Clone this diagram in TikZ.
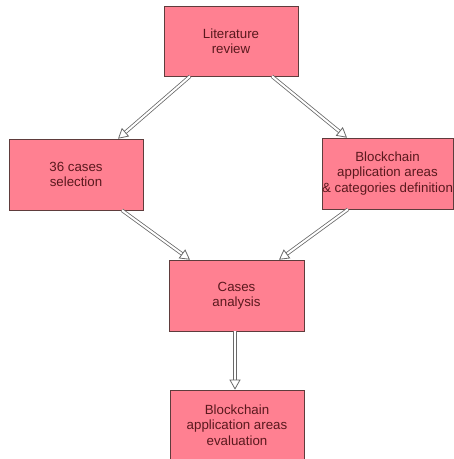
\documentclass[tikz,border=0pt]{standalone}
\usepackage{fontspec}
\setmainfont{Liberation Sans}
\usetikzlibrary{arrows.meta}
\definecolor{boxfill}{RGB}{255,128,145}
\definecolor{boxline}{RGB}{95,60,60}
\definecolor{boxtext}{RGB}{90,25,30}
\definecolor{arrgray}{RGB}{105,105,105}
\tikzset{
  stepbox/.style={draw=boxline, line width=0.6pt, fill=boxfill, text=boxtext,
    minimum width=#1, minimum height=70pt, inner sep=0pt, align=center,
    font=\fontsize{13.3}{15.5}\selectfont},
  stepbox/.default=134pt,
  flow/.style={draw=arrgray, line width=0.8pt, double=white, double distance=2pt,
    -{Triangle[open, length=10pt, width=11pt]}}
}
\begin{document}
\begin{tikzpicture}[x=1pt,y=1pt]
\useasboundingbox (0,0) rectangle (454,459);
\node[stepbox] (lit) at (231,418) {Literature\\review};
\node[stepbox, minimum height=71pt] (sel) at (76,284.5) {36 cases\\selection};
\node[stepbox=129pt, minimum height=71pt] (def) at (387.5,285.5) {Blockchain\\application areas\\\& categories definition};
\node[stepbox=135pt, minimum height=71pt] (ana) at (236.5,163.5) {Cases\\analysis};
\node[stepbox] (eva) at (237,34) {Blockchain\\application areas\\evaluation};
\draw[flow] ([xshift=-41pt]lit.south) -- ([xshift=42pt]sel.north);
\draw[flow] ([xshift=41pt]lit.south) -- ([xshift=-40.5pt]def.north);
\draw[flow] ([xshift=46pt]sel.south) -- ([xshift=-46.5pt]ana.north);
\draw[flow] ([xshift=-39.5pt]def.south) -- ([xshift=42.5pt]ana.north);
\draw[flow] ([xshift=-1.5pt]ana.south) -- ([xshift=-1.5pt]ana.south |- eva.north);
\end{tikzpicture}
\end{document}
